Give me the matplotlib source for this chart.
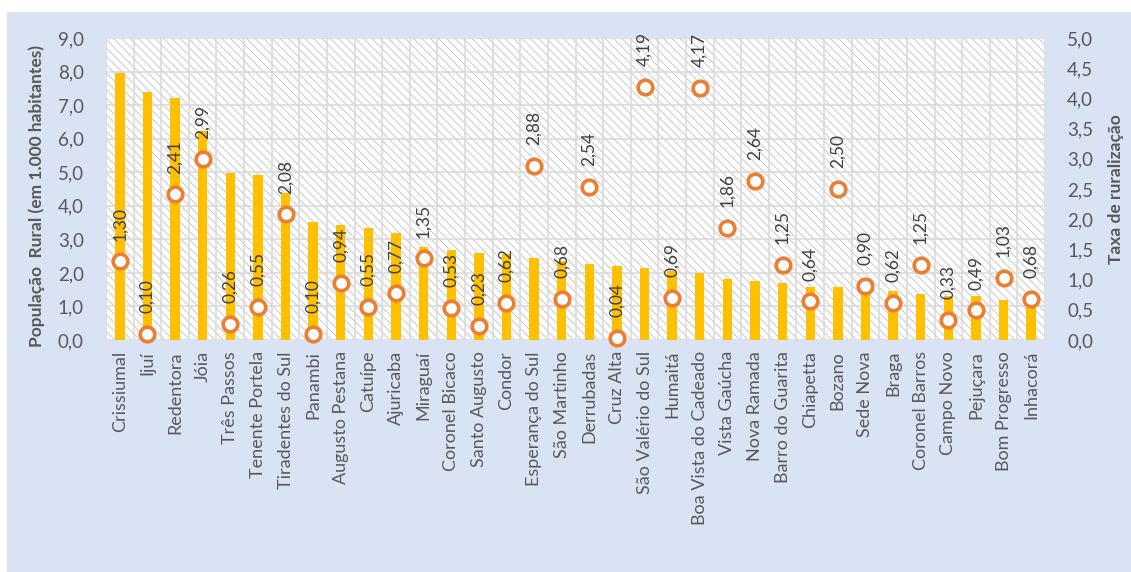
import numpy as np
import matplotlib
matplotlib.use("Agg")
import matplotlib.pyplot as plt
from matplotlib.patches import Rectangle
from matplotlib.ticker import FuncFormatter, FixedLocator

plt.rcParams["font.family"] = ["Lato", "DejaVu Sans"]
plt.rcParams["hatch.linewidth"] = 0.7

# --- data ---
municipios = [
    "Crissiumal", "Ijuí", "Redentora", "Jóia", "Três Passos", "Tenente Portela",
    "Tiradentes do Sul", "Panambi", "Augusto Pestana", "Catuípe", "Ajuricaba",
    "Miraguaí", "Coronel Bicaco", "Santo Augusto", "Condor", "Esperança do Sul",
    "São Martinho", "Derrubadas", "Cruz Alta", "São Valério do Sul", "Humaitá",
    "Boa Vista do Cadeado", "Vista Gaúcha", "Nova Ramada", "Barro do Guarita",
    "Chiapetta", "Bozano", "Sede Nova", "Braga", "Coronel Barros", "Campo Novo",
    "Pejuçara", "Bom Progresso", "Inhacorá",
]

# rural population, thousands of inhabitants (left axis)
pop_rural = [
    7.95, 7.40, 7.22, 6.22, 4.97, 4.92, 4.39, 3.51, 3.43, 3.33, 3.18,
    2.78, 2.68, 2.60, 2.55, 2.45, 2.36, 2.27, 2.21, 2.14, 2.07,
    2.00, 1.82, 1.76, 1.70, 1.58, 1.57, 1.52, 1.45, 1.36, 1.32,
    1.31, 1.19, 1.12,
]

# ruralization rate (right axis)
taxa = [
    1.30, 0.10, 2.41, 2.99, 0.26, 0.55, 2.08, 0.10, 0.94, 0.55, 0.77,
    1.35, 0.53, 0.23, 0.62, 2.88, 0.68, 2.54, 0.04, 4.19, 0.69,
    4.17, 1.86, 2.64, 1.25, 0.64, 2.50, 0.90, 0.62, 1.25, 0.33,
    0.49, 1.03, 0.68,
]

BAR_COLOR = "#FFC000"
MARKER_EDGE = "#ED7D31"
GRID_COLOR = "#D9D9D9"
TEXT_COLOR = "#595959"
BG_COLOR = "#DAE3F3"


def virgula(v, decimals=1):
    return f"{v:.{decimals}f}".replace(".", ",")


fig = plt.figure(figsize=(11.31, 5.72), dpi=100)
fig.patch.set_facecolor("white")
# light blue chart area, leaving a thin white margin on top and left
fig.patches.append(Rectangle((7 / 1131, 0), 1 - 7 / 1131, 1 - 12 / 572,
                             transform=fig.transFigure, facecolor=BG_COLOR,
                             edgecolor="none", zorder=-10))

ax = fig.add_axes([106 / 1131, 1 - 340 / 572, (1045 - 106) / 1131, (340 - 38) / 572])
ax.patch.set_visible(False)
ax.add_patch(Rectangle((0, 0), 1, 1, transform=ax.transAxes, facecolor="white",
                       edgecolor="#C9C9C9", linewidth=0, hatch="\\\\\\\\", zorder=0.1))

x = np.arange(len(municipios))
ax.bar(x, pop_rural, width=0.34, color=BAR_COLOR, zorder=2)

ax.set_xlim(-0.5, len(municipios) - 0.5)
ax.set_ylim(0, 9)
ax.set_yticks(np.arange(0, 9.1, 1))
ax.yaxis.set_major_formatter(FuncFormatter(lambda v, p: virgula(v)))
ax.set_xticks(x)
ax.set_xticklabels(municipios, rotation=90, fontsize=13, color=TEXT_COLOR)
ax.xaxis.set_minor_locator(FixedLocator(np.arange(-0.5, len(municipios), 1)))

ax.set_axisbelow(True)
ax.grid(axis="y", which="major", color=GRID_COLOR, linewidth=1.1, zorder=0.5)
ax.grid(axis="x", which="minor", color=GRID_COLOR, linewidth=1.1, zorder=0.5)
ax.tick_params(axis="x", which="both", length=0, pad=8)
ax.tick_params(axis="y", length=0, pad=16, labelsize=13.5, labelcolor=TEXT_COLOR)
for s in ax.spines.values():
    s.set_visible(False)

ax2 = ax.twinx()
ax2.plot(x, taxa, linestyle="none", marker="o", markersize=10.5,
         markerfacecolor="white", markeredgecolor=MARKER_EDGE,
         markeredgewidth=2.6, zorder=3, clip_on=False)
ax2.set_ylim(0, 5)
ax2.set_yticks(np.arange(0, 5.01, 0.5))
ax2.yaxis.set_major_formatter(FuncFormatter(lambda v, p: virgula(v)))
ax2.tick_params(axis="y", length=0, pad=16, labelsize=13.5, labelcolor=TEXT_COLOR)
for s in ax2.spines.values():
    s.set_visible(False)

for xi, v in zip(x, taxa):
    ax2.annotate(virgula(v, 2), (xi, v), xytext=(0, 15), textcoords="offset points",
                 rotation=90, ha="center", va="bottom", fontsize=12.5,
                 color="#404040", zorder=4, annotation_clip=False)

fig.text(37 / 1131, 1 - 196 / 572, "População  Rural (em 1.000 habitantes)",
         rotation=90, ha="center", va="center", fontsize=12.5,
         fontweight="bold", color=TEXT_COLOR)
fig.text(1116 / 1131, 1 - 189 / 572, "Taxa de ruralização",
         rotation=90, ha="center", va="center", fontsize=12.5,
         fontweight="bold", color=TEXT_COLOR)

fig.savefig("out.png", dpi=100, facecolor=fig.get_facecolor())
